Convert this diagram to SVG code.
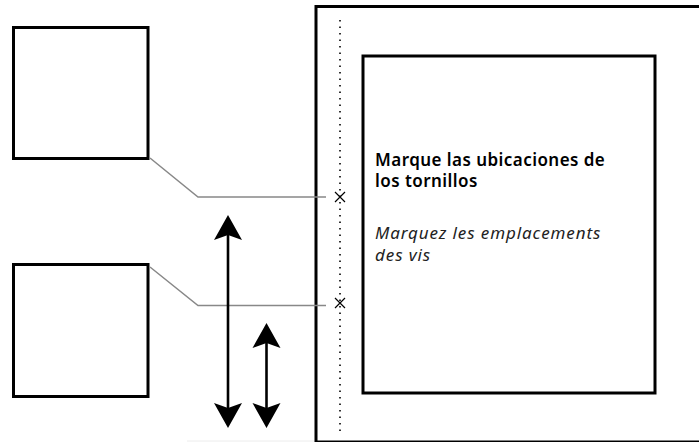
<svg xmlns="http://www.w3.org/2000/svg" width="699" height="442" viewBox="0 0 699 442">
<style>
.box{fill:#fff;stroke:#000;stroke-width:3}
.lead{fill:none;stroke:#888;stroke-width:1.5}
.arrow{fill:none;stroke:#000;stroke-width:2.6}
.cross{stroke:#000;stroke-width:1.2;fill:none}
.t1{font-family:"Noto Sans",Lato,sans-serif;font-weight:600;font-size:17px;letter-spacing:0.45px;fill:#000}
.t2{font-family:"Noto Sans",Lato,sans-serif;font-style:italic;font-size:17px;letter-spacing:0.9px;fill:#222}
</style>
<defs>
<marker id="ah" markerUnits="userSpaceOnUse" viewBox="-6 -15 27 30" refX="0" refY="0" markerWidth="27" markerHeight="30" orient="auto-start-reverse">
<path d="M20,0 L-5,-14 L0,0 L-5,14 Z" fill="#000"/>
</marker>
</defs>
<rect width="699" height="442" fill="#fff"/>
<line x1="187" y1="441" x2="315" y2="441" stroke="#ececec" stroke-width="1"/>
<g id="frame">
<rect x="316" y="6.5" width="400" height="435.5" fill="none" stroke="#000" stroke-width="3"/>
<line x1="340" y1="20" x2="340" y2="433" stroke="#000" stroke-width="1.6" stroke-dasharray="1.6 4.9"/>
</g>
<g id="box1"><rect class="box" x="13.5" y="27.5" width="134.5" height="131"/></g>
<g id="box2"><rect class="box" x="13.5" y="264.5" width="134.5" height="132"/></g>
<g id="panel">
<rect class="box" x="363" y="56" width="292" height="337"/>
<text class="t1" x="375" y="166">Marque las ubicaciones de</text>
<text class="t1" x="375" y="187">los tornillos</text>
<text class="t2" x="375" y="239">Marquez les emplacements</text>
<text class="t2" x="375" y="261">des vis</text>
</g>
<g id="marks">
<path class="cross" d="M335,192 L345,202 M345,192 L335,202"/>
<path class="cross" d="M335,298 L345,308 M345,298 L335,308"/>
</g>
<g id="connectors">
<polyline class="lead" points="150,158 198,197 326,197"/>
<polyline class="lead" points="150,267 198,305.5 326,305.5"/>
<line class="arrow" x1="228" y1="235" x2="228" y2="408" marker-start="url(#ah)" marker-end="url(#ah)"/>
<line class="arrow" x1="266.5" y1="343" x2="266.5" y2="408" marker-start="url(#ah)" marker-end="url(#ah)"/>
</g>
</svg>
